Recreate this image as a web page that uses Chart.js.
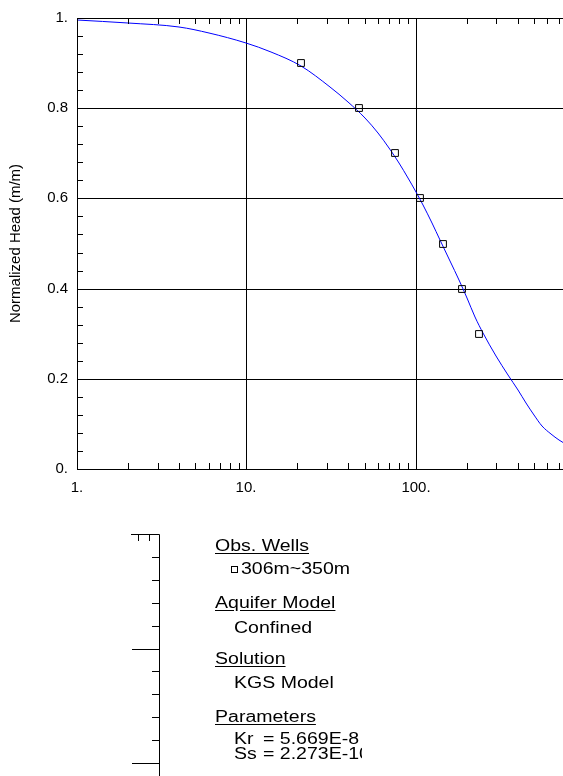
<!DOCTYPE html>
<html>
<head>
<meta charset="utf-8">
<script src="https://cdn.jsdelivr.net/npm/chart.js@4.4.0/dist/chart.umd.min.js"></script>
<style>
html, body { margin:0; padding:0; background:#fff; overflow:hidden; width:563px; height:776px; position:relative; }
#c1 { position:absolute; left:0; top:0; }
#c2 { position:absolute; left:0; top:520px; }
#legend { position:absolute; left:0; top:0; width:362px; height:776px; overflow:hidden; }
.lg { position:absolute; font-family:"Liberation Sans", Arial, sans-serif; font-size:16px; line-height:16px;
      white-space:nowrap; transform-origin:0 0; transform:scaleX(1.22); color:#000; }
.u { text-decoration:underline; text-underline-offset:2px; }
.sq { position:absolute; left:231px; top:566px; width:5px; height:5px; border:1px solid #000; }
</style>
</head>
<body>
<canvas id="c1" width="640" height="500"></canvas>
<canvas id="c2" width="200" height="472"></canvas>
<div id="legend">
  <div class="lg u" style="left:215px; top:537.5px;">Obs. Wells</div>
  <div class="sq"></div>
  <div class="lg" style="left:241px; top:560.5px;">306m~350m</div>
  <div class="lg u" style="left:215px; top:595px;">Aquifer Model</div>
  <div class="lg" style="left:234px; top:620px;">Confined</div>
  <div class="lg u" style="left:215px; top:651px;">Solution</div>
  <div class="lg" style="left:234px; top:674.5px;">KGS Model</div>
  <div class="lg u" style="left:215px; top:708.5px;">Parameters</div>
  <div class="lg" style="left:234px; top:731px;">Kr</div>
  <div class="lg" style="left:263px; top:731px;">= 5.669E-8</div>
  <div class="lg" style="left:234px; top:746px;">Ss</div>
  <div class="lg" style="left:263px; top:746px;">= 2.273E-10</div>
</div>
<script>
// ---- data ----
const OBS_X = [21, 46, 75, 106, 145, 187, 238];
const OBS_Y = [0.9, 0.8, 0.7, 0.6, 0.5, 0.4, 0.3];

const CURVE_X = [1, 2, 4, 6, 10, 14, 21, 31, 40, 50, 60, 70, 80, 90, 100, 110, 125, 140, 160, 180, 200, 225, 250, 300, 350, 400, 450, 500, 560, 630, 700, 800];
const CURVE_Y = [0.996, 0.990, 0.980, 0.967, 0.945, 0.925, 0.893, 0.848, 0.814, 0.779, 0.745, 0.711, 0.678, 0.645, 0.614, 0.586, 0.545, 0.508, 0.462, 0.418, 0.380, 0.338, 0.302, 0.250, 0.208, 0.175, 0.146, 0.120, 0.096, 0.077, 0.064, 0.052];

// ---- tick definitions ----
const X_MAJOR = [1, 10, 100, 1000];
const X_MAJOR_LABELS = ['1.', '10.', '100.', '1000.'];
const X_MINOR = [2,3,4,5,6,7,8,9, 20,30,40,50,60,70,80,90, 200,300,400,500,600,700,800,900];
const Y_MAJOR = [0, 0.2, 0.4, 0.6, 0.8, 1.0];
const Y_MAJOR_LABELS = ['0.', '0.2', '0.4', '0.6', '0.8', '1.'];
const Y_MINOR = [0.04,0.08,0.12,0.16, 0.24,0.28,0.32,0.36, 0.44,0.48,0.52,0.56, 0.64,0.68,0.72,0.76, 0.84,0.88,0.92,0.96];

// lower partial panel ticks
const SUB_X_MINOR = [8, 9];
const SUB_Y_MAJOR = [0, 5, 10, 15, 20];
const SUB_Y_MINOR = [1,2,3,4, 6,7,8,9, 11,12,13,14, 16,17,18,19];

const FONT = '"Liberation Sans", Arial, sans-serif';
const near = (a, b) => Math.abs(a - b) < 1e-9 * Math.max(1, Math.abs(b));

// plugin: frame + inward tick marks, computed through the chart scales
const frameTicks = {
  id: 'frameTicks',
  afterDraw(chart, args, o) {
    const {ctx, chartArea: a} = chart;
    const xs = chart.scales.x, ys = chart.scales.y;
    const P = v => Math.round(v) + 0.5;
    ctx.save();
    ctx.strokeStyle = '#000';
    ctx.lineWidth = 1;
    ctx.beginPath();
    if (o.frame) {
      ctx.rect(P(a.left), P(a.top), Math.round(a.right) - Math.round(a.left), Math.round(a.bottom) - Math.round(a.top));
    }
    if (o.topRight) {
      ctx.moveTo(Math.round(a.left), P(a.top)); ctx.lineTo(P(a.right), P(a.top));
      ctx.moveTo(P(a.right), P(a.top)); ctx.lineTo(P(a.right), Math.round(a.bottom));
    }
    (o.xMinor || []).forEach(v => {
      const x = P(xs.getPixelForValue(v));
      if (o.xTop) { ctx.moveTo(x, a.top); ctx.lineTo(x, a.top + o.minorLen); }
      if (o.xBottom) { ctx.moveTo(x, a.bottom); ctx.lineTo(x, a.bottom - o.minorLen); }
    });
    (o.yMinor || []).forEach(v => {
      const y = P(ys.getPixelForValue(v));
      if (o.yLeft) { ctx.moveTo(a.left, y); ctx.lineTo(a.left + o.minorLen, y); }
      if (o.yRight) { ctx.moveTo(a.right, y); ctx.lineTo(a.right - o.minorLen, y); }
    });
    (o.yMajor || []).forEach(v => {
      const y = P(ys.getPixelForValue(v));
      if (o.yRight) { ctx.moveTo(a.right, y); ctx.lineTo(a.right - o.majorLen, y); }
      if (o.yLeft) { ctx.moveTo(a.left, y); ctx.lineTo(a.left + o.majorLen, y); }
    });
    ctx.stroke();
    ctx.restore();
  }
};

// ---- main chart ----
new Chart(document.getElementById('c1'), {
  type: 'scatter',
  data: {
    datasets: [
      {
        label: '306m~350m',
        data: OBS_X.map((x, i) => ({x, y: OBS_Y[i]})),
        pointStyle: 'rect',
        pointRadius: 4.8,
        borderColor: '#000',
        borderWidth: 1,
        backgroundColor: 'rgba(0,0,0,0)',
        showLine: false
      },
      {
        label: 'KGS Model',
        data: CURVE_X.map((x, i) => ({x, y: CURVE_Y[i]})),
        showLine: true,
        borderColor: '#0000ff',
        borderWidth: 1,
        pointRadius: 0,
        cubicInterpolationMode: 'monotone',
        fill: false
      }
    ]
  },
  options: {
    responsive: false,
    devicePixelRatio: 1,
    animation: false,
    events: [],
    layout: { padding: { left: 0, top: 13, right: 55, bottom: 0 } },
    scales: {
      x: {
        type: 'logarithmic',
        min: 1, max: 1000,
        position: 'bottom',
        alignToPixels: true,
        afterBuildTicks: s => { s.ticks = X_MAJOR.map(v => ({value: v})); },
        afterFit: s => { s.height = 31; },
        ticks: {
          autoSkip: false, maxRotation: 0, padding: 10, color: '#000',
          font: { family: FONT, size: 15 },
          callback: v => { const i = X_MAJOR.findIndex(m => near(m, v)); return i >= 0 ? X_MAJOR_LABELS[i] : ''; }
        },
        grid: { color: '#000', lineWidth: 1, drawTicks: false },
        border: { color: '#000', width: 1 }
      },
      y: {
        type: 'linear',
        min: 0, max: 1,
        position: 'left',
        alignToPixels: true,
        afterBuildTicks: s => { s.ticks = Y_MAJOR.map(v => ({value: v})); },
        afterFit: s => { s.width = 77; },
        ticks: {
          padding: 9, color: '#000',
          font: { family: FONT, size: 15 },
          callback: v => { const i = Y_MAJOR.findIndex(m => near(m, v)); return i >= 0 ? Y_MAJOR_LABELS[i] : ''; }
        },
        grid: { color: '#000', lineWidth: 1, drawTicks: false },
        border: { color: '#000', width: 1 },
        title: {
          display: true, text: 'Normalized Head (m/m)', color: '#000',
          font: { family: FONT, size: 15 }, padding: { top: 7, bottom: 0 }
        }
      }
    },
    plugins: {
      legend: { display: false },
      tooltip: { enabled: false },
      frameTicks: {
        frame: true, minorLen: 6, majorLen: 0,
        xMinor: X_MINOR, yMinor: Y_MINOR,
        xTop: true, xBottom: true, yLeft: true, yRight: true
      }
    }
  },
  plugins: [frameTicks]
});

// ---- lower partial panel (only its top-right corner is visible) ----
new Chart(document.getElementById('c2'), {
  type: 'scatter',
  data: { datasets: [{ data: [] }] },
  options: {
    responsive: false,
    devicePixelRatio: 1,
    animation: false,
    events: [],
    layout: { padding: { left: 131, top: 14, right: 0, bottom: 0 } },
    scales: {
      x: {
        type: 'logarithmic', min: 7.4, max: 10, position: 'top',
        afterBuildTicks: s => { s.ticks = SUB_X_MINOR.map(v => ({value: v})); },
        afterFit: s => { s.height = 0; },
        ticks: { display: false },
        grid: { display: false, drawTicks: false },
        border: { display: false }
      },
      y: {
        type: 'linear', min: 0, max: 20, position: 'right',
        afterBuildTicks: s => { s.ticks = SUB_Y_MAJOR.map(v => ({value: v})); },
        afterFit: s => { s.width = 41; },
        ticks: { display: false },
        grid: { display: false, drawTicks: false },
        border: { display: false }
      }
    },
    plugins: {
      legend: { display: false },
      tooltip: { enabled: false },
      frameTicks: {
        frame: false, topRight: true, minorLen: 7, majorLen: 27,
        xMinor: SUB_X_MINOR, yMinor: SUB_Y_MINOR, yMajor: SUB_Y_MAJOR,
        xTop: true, yRight: true
      }
    }
  },
  plugins: [frameTicks]
});
</script>
</body>
</html>
